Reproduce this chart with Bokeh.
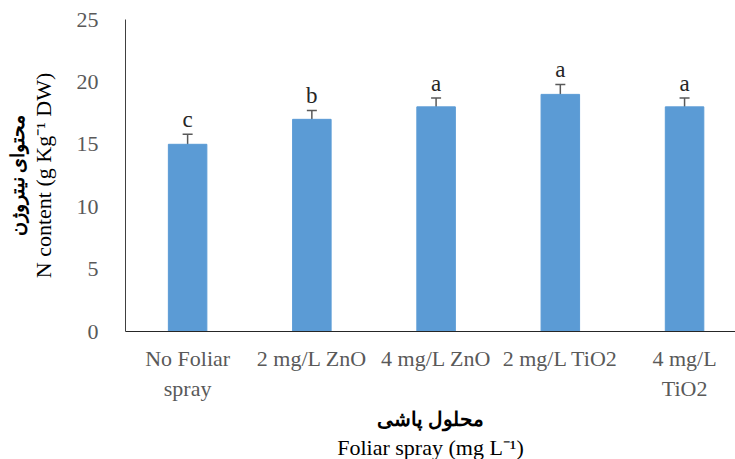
from bokeh.plotting import figure
from bokeh.models import (ColumnDataSource, Range1d, FixedTicker, Whisker, TeeHead, Title)
from bokeh.core.properties import value
from bokeh.embed import file_html
from bokeh.resources import INLINE

categories = ["No Foliar\nspray", "2 mg/L ZnO", "4 mg/L ZnO", "2 mg/L TiO2", "4 mg/L\nTiO2"]
n_content = [15, 17, 18, 19, 18]
errors = [0.8, 0.7, 0.7, 0.8, 0.7]
letters = ["c", "b", "a", "a", "a"]
y_ticks = [0, 5, 10, 15, 20, 25]

xs = [i + 0.5 for i in range(len(categories))]
src = ColumnDataSource(dict(
    x=xs, top=n_content,
    upper=[v + e for v, e in zip(n_content, errors)],
    lower=[v - e for v, e in zip(n_content, errors)],
    letter=letters,
    ly=[v + e + 0.2 for v, e in zip(n_content, errors)],
))

FONT = "Liberation Serif"
GREY = "#595959"

p = figure(width=735, height=459, output_backend="svg", toolbar_location=None,
           x_range=Range1d(0, 4.91), y_range=Range1d(0, 25),
           min_border_left=125, min_border_top=19, min_border_right=0, min_border_bottom=126)
p.outline_line_color = None
p.xgrid.grid_line_color = None
p.ygrid.grid_line_color = None

p.vbar(x="x", top="top", width=0.31, bottom=0, source=src, fill_color="#5B9BD5", line_color="#5B9BD5")
w = Whisker(base="x", upper="upper", lower="lower", source=src,
            line_color=GREY, line_width=1.5,
            upper_head=TeeHead(size=10, line_color=GREY, line_width=1.5),
            lower_head=TeeHead(size=10, line_color=GREY, line_width=1.5))
p.add_layout(w)
p.text(x="x", y="ly", text="letter", source=src, text_align="center", text_baseline="bottom",
       text_font=value(FONT), text_font_size="23px", text_color="#262626")

# y axis
p.yaxis.ticker = FixedTicker(ticks=y_ticks)
p.yaxis.major_tick_line_color = None
p.yaxis.minor_tick_line_color = None
p.yaxis.axis_line_color = "#404040"
p.yaxis.major_label_text_font = FONT
p.yaxis.major_label_text_font_size = "22px"
p.yaxis.major_label_text_color = GREY
p.yaxis.major_label_standoff = 21
p.yaxis.axis_label = "N content (g Kg\u207b\u00b9 DW)"
p.yaxis.axis_label_text_font = FONT
p.yaxis.axis_label_text_font_size = "22px"
p.yaxis.axis_label_text_font_style = "normal"
p.yaxis.axis_label_text_color = "#000000"
p.yaxis.axis_label_standoff = 18
p.add_layout(Title(text="محتوای نیتروژن", align="center", text_font=FONT, text_font_size="19px",
                   text_font_style="bold", text_color="#000000", standoff=0, offset=0), "left")

# x axis
p.xaxis.ticker = FixedTicker(ticks=xs)
p.xaxis.major_label_overrides = {x: c for x, c in zip(xs, categories)}
p.xaxis.major_tick_line_color = None
p.xaxis.minor_tick_line_color = None
p.xaxis.axis_line_color = "#262626"
p.xaxis.major_label_text_font = FONT
p.xaxis.major_label_text_font_size = "22px"
p.xaxis.major_label_text_color = GREY
p.xaxis.major_label_standoff = 8
p.xaxis.axis_label = "محلول پاشی"
p.xaxis.axis_label_text_font = FONT
p.xaxis.axis_label_text_font_size = "20px"
p.xaxis.axis_label_text_font_style = "bold"
p.xaxis.axis_label_text_color = "#000000"
p.xaxis.axis_label_standoff = 4
p.add_layout(Title(text="Foliar spray (mg L\u207b\u00b9)", align="center", text_font=FONT,
                   text_font_size="22px", text_font_style="normal", text_color="#000000",
                   standoff=0, offset=0), "below")

open("out.html", "w").write(file_html(p, INLINE))
